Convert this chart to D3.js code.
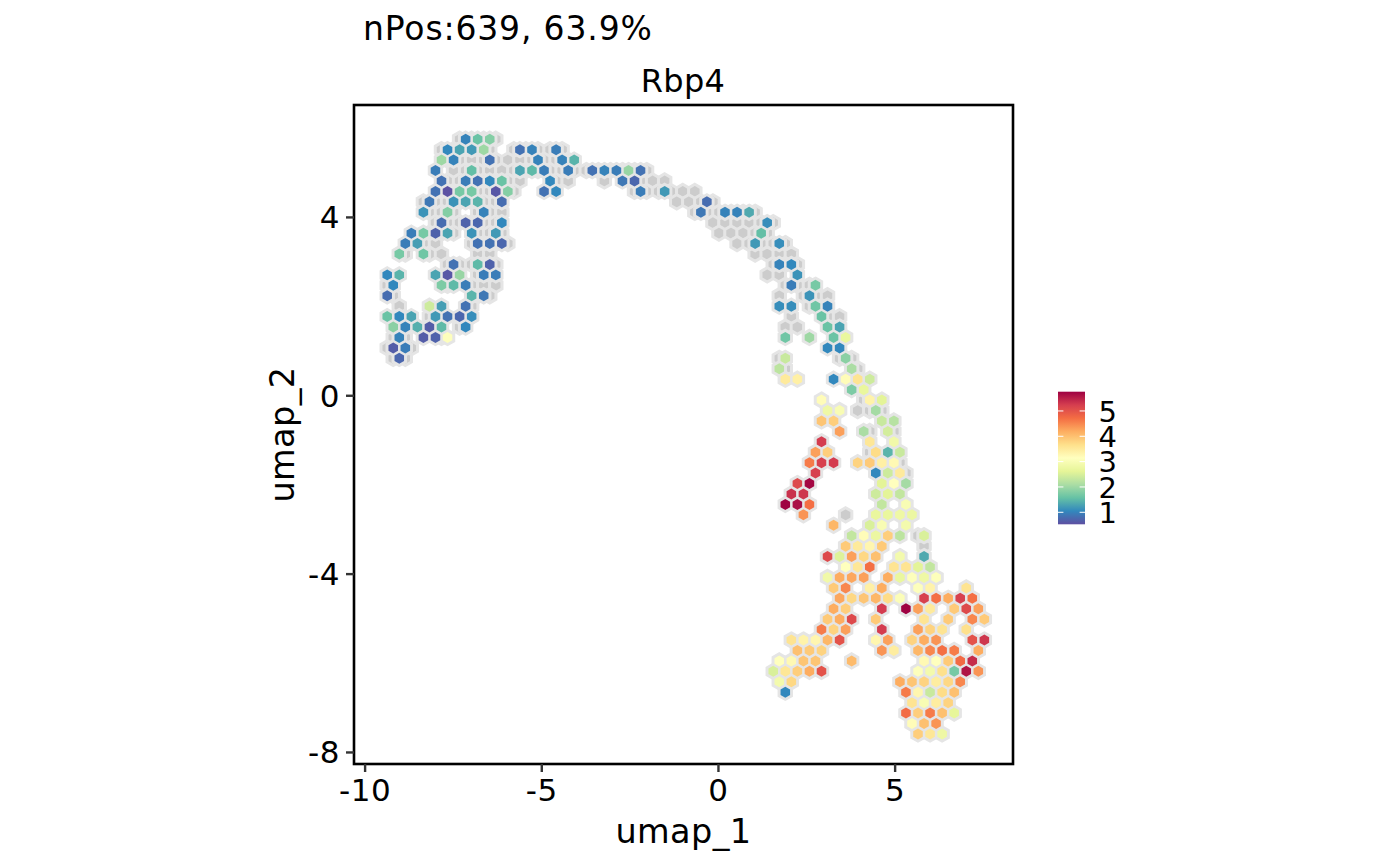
<!DOCTYPE html>
<html><head><meta charset="utf-8">
<style>html,body{margin:0;padding:0;background:#fff}svg{display:block}text{font-family:"DejaVu Sans";fill:#000}</style>
<script src="https://cdn.jsdelivr.net/npm/d3@7/dist/d3.min.js"></script></head>
<body><svg id="c" width="1400" height="866"></svg>
<script>
const titleText="nPos:639, 63.9%", subTitle="Rbp4", xLabel="umap_1", yLabel="umap_2";
const xTicks=[-10,-5,0,5], yTicks=[4,0,-4,-8], legendTicks=[1,2,3,4,5];
const xDomain=[-10.30,8.35], yDomain=[-8.27,6.51], valueDomain=[0.526,5.76];
const spectral=["#5e4fa2","#3288bd","#66c2a5","#abdda4","#e6f598","#ffffbf","#fee08b","#fdae61","#f46d43","#d53e4f","#9e0142"];
// hexbin lattice in umap units
const binX0=-7.141, binY0=5.742, binDX=0.1707, binDY=0.2340;
// negative bins: index = lattice row, entries = lattice column
const negRows=[
[-1,1,3,5],
[-4,-2,0,2,4,8,10,12,14,16],
[-3,-1,1,3,5,7,9,11,13,15,17],
[-2,0,2,4,6,8,10,12,14,16,18,20,22,24,26,28,30],
[-3,-1,1,3,5,7,9,15,17,23,29,31,33],
[-4,-2,0,2,4,6,8,28,30,32,34,36,38],
[-7,-5,-3,-1,1,3,5,35,37,39,41],
[-6,-4,-2,2,4,6,38,40,42,44,46,48],
[-5,-3,-1,1,3,5,41,43,45,47,49,51],
[-6,-4,-2,2,4,6,42,44,46,48,50],
[-9,-7,-5,1,3,5,7,45,47,49,51,53],
[-10,-6,-4,2,4,48,50,52,54],
[-3,-1,1,3,5,51,53,55],
[2,50,52],
[-13,-3,1,3,5,53,55,57],
[-12,2,4,52,56,58,60],
[-11,1,57],
[-6,0,54,60,62],
[-1,53,55],
[-12,-10,-4],
[-13,-11,-9],
[-12,-10,52,62,64],
[53,65],[],[],
[66],
[65,67,69],[],
[67,71],[],
[67],
[72],
[73],[],[],[],
[63],[],
[75],
[76]];
// positive bins: index = lattice row, entries = [lattice column, expression]
const posRows=[
[[0,1.0],[2,1.6],[4,1.8]],
[[-3,1.05],[-1,1.3],[1,1.2],[3,2.0],[9,.85],[11,1.0],[15,.95]],
[[-4,2.0],[-2,1.0],[4,.85],[12,1.0],[16,1.0],[18,1.45]],
[[-5,.95],[1,1.55],[9,1.3],[11,1.5],[13,.95],[17,.95],[21,.85],[23,1.0],[25,.95],[27,1.95],[29,.85]],
[[-4,.85],[0,.95],[2,.85],[4,1.05],[6,1.6],[14,1.05],[26,.9],[28,.75]],
[[-5,.85],[-3,.55],[-1,1.7],[1,1.7],[5,.6],[7,1.8],[13,.85],[15,1.05],[29,.95],[33,1.2]],
[[-6,.9],[-2,1.15],[0,1.3],[2,1.45],[6,.8],[40,.8]],
[[-7,1.15],[-3,1.8],[3,1.0],[39,.9],[43,1.0],[45,1.0],[47,1.35]],
[[-4,.8],[0,.7],[2,.75],[6,1.05],[50,1.1]],
[[-9,.95],[-7,1.7],[-5,.7],[-3,1.3],[1,1.15],[5,1.2],[49,1.55]],
[[-10,.95],[-8,1.25],[2,.85],[4,.85],[6,.75],[48,1.2],[52,1.1]],
[[-11,1.7],[-7,1.65]],
[[-2,.85],[2,1.5],[4,.7],[52,1.0],[54,1.05]],
[[-13,1.05],[-11,1.45],[-5,1.3],[-3,.6],[-1,1.95],[3,.95],[5,.95],[55,1.15]],
[[-12,1.05],[-4,1.75],[-2,1.5],[0,.95],[54,.95],[58,1.7]],
[[-13,.8],[1,1.45],[3,.9],[57,1.15]],
[[-6,2.4],[-4,1.25],[0,.85],[52,1.1],[54,1.1],[58,1.65],[60,1.0]],
[[-13,1.6],[-11,1.05],[-9,1.3],[-5,1.2],[-3,.85],[-1,.75],[1,1.1],[59,1.6]],
[[-12,1.85],[-10,1.0],[-8,1.4],[-6,.65],[-4,1.5],[0,1.05],[60,1.6],[62,1.3]],
[[-11,1.0],[-7,.65],[-5,.7],[-3,3.1],[53,1.65],[57,2.0],[61,1.6],[63,2.7]],
[[-12,.65],[-10,.95],[60,1.05],[62,1.05]],
[[-11,.75],[53,2.35],[63,1.85]],
[[52,2.25],[64,2.1]],
[[53,3.5],[55,3.4],[61,1.05],[63,3.2],[65,3.6],[67,2.4]],
[[64,1.75],[66,2.7]],
[[59,3.2],[67,3.35],[69,2.6]],
[[60,2.8],[62,3.0],[68,2.05]],
[[59,3.95],[61,3.85],[69,2.35],[71,2.2]],
[[62,4.3],[66,2.1],[70,2.45]],
[[59,5.25],[67,3.55],[71,2.85]],
[[58,4.3],[60,3.85],[68,3.7],[70,1.45],[72,2.35]],
[[57,4.6],[59,5.2],[61,5.25],[65,3.8],[67,3.9],[69,3.4],[71,3.25]],
[[58,5.2],[68,1.05],[70,2.4],[72,3.5]],
[[55,5.1],[57,5.7],[69,2.6],[71,3.15],[73,2.05]],
[[54,5.35],[56,5.3],[68,2.4],[70,2.6],[72,2.3]],
[[53,5.75],[55,5.65],[57,4.7],[69,2.3],[73,3.0]],
[[56,4.4],[68,2.7],[70,2.7],[72,2.8],[74,2.75]],
[[61,4.1],[67,2.5],[69,3.0],[73,2.9]],
[[64,2.3],[66,3.2],[68,2.75],[70,3.85],[72,2.25],[76,2.5]],
[[63,3.9],[65,3.5],[67,3.3],[69,3.9]],
[[60,5.1],[62,2.55],[64,4.3],[66,3.75],[68,4.0],[72,2.9],[76,1.35]],
[[63,3.15],[65,3.55],[67,4.7],[71,3.6],[73,3.6],[75,2.6],[77,2.3]],
[[60,2.85],[62,4.2],[64,4.25],[66,4.3],[70,4.2],[72,2.7],[74,3.1],[76,2.8],[78,3.1]],
[[61,3.9],[63,4.5],[67,3.4],[69,4.2],[75,3.1],[77,3.35],[83,3.6]],
[[62,4.25],[64,3.75],[66,3.95],[68,4.1],[70,3.7],[72,3.05],[76,5.2],[78,4.7],[80,4.2],[82,5.2],[84,4.7]],
[[61,4.2],[63,3.85],[69,5.25],[73,5.75],[75,4.3],[77,3.5],[81,3.9],[83,5.1],[85,4.3]],
[[60,3.9],[62,4.2],[64,5.1],[68,3.9],[76,3.6],[80,3.9],[84,4.5],[86,3.9]],
[[59,4.6],[61,3.8],[63,4.3],[69,5.25],[75,4.3],[77,3.8],[79,3.6],[83,3.65]],
[[54,3.6],[56,3.35],[58,3.3],[60,4.1],[62,5.0],[68,3.3],[70,4.3],[74,3.8],[76,4.2],[78,4.4],[84,5.0],[86,5.3]],
[[55,4.0],[57,3.9],[59,3.8],[69,4.4],[71,3.45],[75,4.1],[77,4.5],[79,4.7],[81,4.6],[85,4.2]],
[[52,3.15],[54,3.25],[56,3.95],[58,3.95],[64,4.05],[76,3.25],[78,3.15],[80,3.9],[82,4.75],[84,5.4]],
[[51,2.5],[53,3.55],[55,3.85],[57,4.2],[59,5.0],[75,3.1],[77,2.9],[79,3.65],[81,1.7],[83,5.6],[85,4.4]],
[[52,2.9],[54,3.75],[72,4.2],[74,3.95],[76,3.8],[78,3.45],[80,3.75],[82,4.5]],
[[53,1.05],[73,4.6],[75,3.3],[77,2.35],[79,3.7],[81,4.0]],
[[74,3.6],[76,3.0],[78,3.45],[80,3.8]],
[[73,4.75],[75,3.85],[77,4.6],[79,4.0],[81,2.65]],
[[74,3.2],[76,4.0],[78,4.4]],
[[75,3.85],[77,3.55],[79,2.8]]];

const W={l:354,r:1013,t:105,b:764};
const svg=d3.select("#c");
const x=d3.scaleLinear().domain(xDomain).range([W.l,W.r]);
const y=d3.scaleLinear().domain(yDomain).range([W.b,W.t]);
const valueStops=d3.range(spectral.length).map(i=>valueDomain[0]+i*(valueDomain[1]-valueDomain[0])/(spectral.length-1));
const color=d3.scaleLinear().domain(valueStops).range(spectral).interpolate(d3.interpolateRgb);
const binPx=(c,r)=>[x(binX0+c*binDX),y(binY0-r*binDY)];
const hw=(x(binDX)-x(0)), hR=(y(0)-y(binDY))/1.5;
const hexPathAt=k=>`M0,${-hR*k}L${hw*k},${-hR*k/2}L${hw*k},${hR*k/2}L0,${hR*k}L${-hw*k},${hR*k/2}L${-hw*k},${-hR*k/2}Z`;
const flat=(rows,f)=>rows.flatMap((cells,r)=>cells.map(cell=>f(cell,r)));
const neg=flat(negRows,(c,r)=>({c,r}));
const pos=flat(posRows,(d,r)=>({c:d[0],r,v:d[1]}));
const plot=svg.append("g");
const place=d=>`translate(${binPx(d.c,d.r)})`;
plot.selectAll("path.neg").data(neg).join("path").attr("class","neg").attr("d",hexPathAt(1.03))
 .attr("transform",place).attr("fill","#cccccc").attr("stroke","#e5e5e5").attr("stroke-width",3);
plot.selectAll("path.halo").data(pos).join("path").attr("class","halo").attr("d",hexPathAt(1.03))
 .attr("transform",place).attr("fill","#e5e5e5").attr("stroke","#e5e5e5").attr("stroke-width",3);
plot.selectAll("path.pos").data(pos).join("path").attr("class","pos").attr("d",hexPathAt(0.79))
 .attr("transform",place).attr("fill",d=>color(d.v));
svg.append("rect").attr("x",W.l).attr("y",W.t).attr("width",W.r-W.l).attr("height",W.b-W.t).attr("fill","none").attr("stroke","#000").attr("stroke-width",2.6);

const fmt=d=>String(d);
const gx=svg.append("g").attr("transform",`translate(0,${W.b})`).call(d3.axisBottom(x).tickValues(xTicks).tickFormat(fmt).tickSize(8).tickPadding(7));
const gy=svg.append("g").attr("transform",`translate(${W.l},0)`).call(d3.axisLeft(y).tickValues(yTicks).tickFormat(fmt).tickSize(8).tickPadding(6));
[gx,gy].forEach(g=>{g.select(".domain").remove();g.selectAll("line").attr("stroke","#333").attr("stroke-width",2.4);
 g.selectAll("text").attr("font-family","DejaVu Sans").attr("font-size",31).attr("letter-spacing",0.6).attr("fill","#000");});
gy.selectAll("text").attr("dy","0.35em");
svg.append("text").attr("x",363).attr("y",40).attr("font-size",33).attr("letter-spacing",0.85).text(titleText);
svg.append("text").attr("x",683).attr("y",92).attr("text-anchor","middle").attr("font-size",32).attr("letter-spacing",0.3).text(subTitle);
svg.append("text").attr("x",683.5).attr("y",842.7).attr("text-anchor","middle").attr("font-size",33.5).attr("letter-spacing",0.4).text(xLabel);
svg.append("text").attr("transform","translate(294,434.5) rotate(-90)").attr("text-anchor","middle").attr("font-size",33.5).attr("letter-spacing",0.4).text(yLabel);

// legend
const L={x:1058,w:27,t:391.7,b:524.3};
const ly=d3.scaleLinear().domain(valueDomain).range([L.b,L.t]);
const grad=svg.append("defs").append("linearGradient").attr("id","g").attr("x1",0).attr("x2",0).attr("y1",1).attr("y2",0);
spectral.forEach((c,i)=>grad.append("stop").attr("offset",i/(spectral.length-1)).attr("stop-color",c));
svg.append("rect").attr("x",L.x).attr("y",L.t).attr("width",L.w).attr("height",L.b-L.t).attr("fill","url(#g)");
legendTicks.forEach(t=>{
 [[L.x,L.x+5.4],[L.x+L.w-5.4,L.x+L.w]].forEach(p=>svg.append("line").attr("x1",p[0]).attr("x2",p[1]).attr("y1",ly(t)).attr("y2",ly(t)).attr("stroke","#fff").attr("stroke-width",1));
 svg.append("text").attr("x",1098.5).attr("y",ly(t)+10.7).attr("font-size",29).text(fmt(t));
});
</script></body></html>
